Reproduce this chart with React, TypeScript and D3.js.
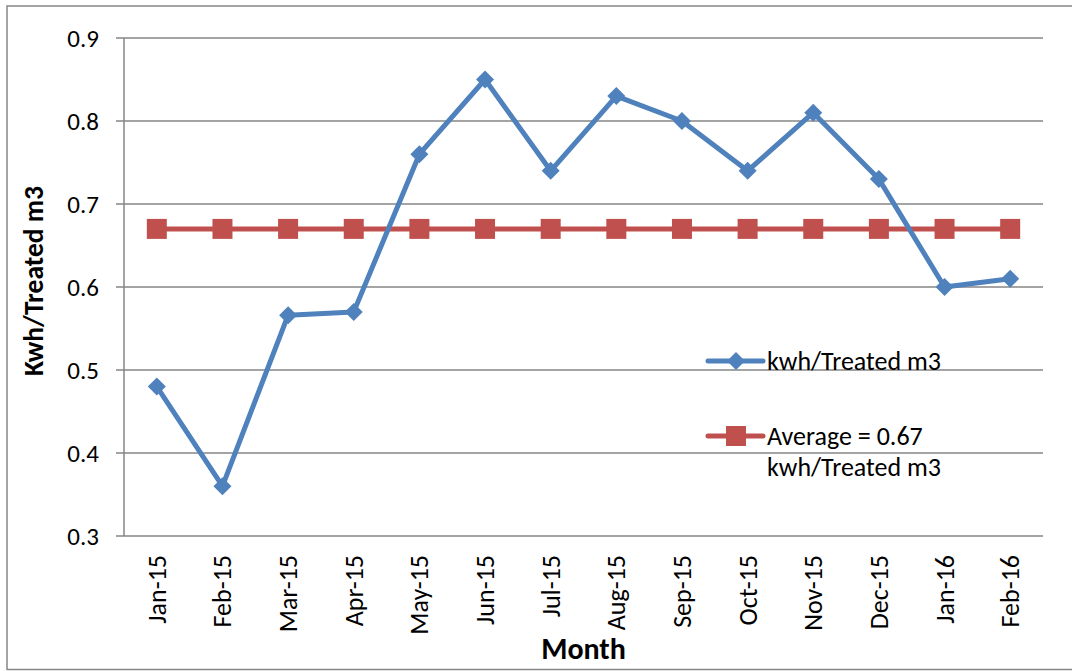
import React from "react";
import * as d3 from "d3";

const months = ["Jan-15","Feb-15","Mar-15","Apr-15","May-15","Jun-15","Jul-15","Aug-15","Sep-15","Oct-15","Nov-15","Dec-15","Jan-16","Feb-16"];
const kwhValues = [0.48,0.36,0.566,0.57,0.76,0.85,0.74,0.83,0.80,0.74,0.81,0.73,0.60,0.61];
const averageValue = 0.67;
const yTicks = [0.3,0.4,0.5,0.6,0.7,0.8,0.9];
const seriesNames = ["kwh/Treated m3", "Average = 0.67", "kwh/Treated m3"];

const W = 1072, H = 671;
const left = 124, right = 1043, top = 38, bottom = 536;
const FONT = "Carlito, Calibri, Lato, 'Open Sans', sans-serif";
const BLUE = "#4F81BD";
const RED = "#C0504D";
const GRID = "#868686";

export default function App() {
  const x = d3.scaleBand<string>().domain(months).range([left, right]);
  const y = d3.scaleLinear().domain([0.3, 0.9]).range([bottom, top]);
  const cx = (m: string) => (x(m) as number) + x.bandwidth() / 2;
  const line = d3.line<number>().x((_, i) => cx(months[i])).y(d => y(d));
  const avg = months.map(() => averageValue);
  const diamond = (px: number, py: number, r: number) =>
    `M${px},${py - r}L${px + r},${py}L${px},${py + r}L${px - r},${py}Z`;

  return (
    <svg width={W} height={H} style={{ position: "absolute", left: 0, top: 0, background: "#fff" }} fontFamily={FONT}>
      <rect x={7} y={6} width={W + 10} height={663.5} fill="#fff" stroke={GRID} strokeWidth={1.5} />
      {yTicks.map(t => (
        <g key={t}>
          <line x1={116} x2={right} y1={y(t)} y2={y(t)} stroke={GRID} strokeWidth={1.5} />
          <text x={99} y={y(t)} textAnchor="end" dominantBaseline="central" fontSize={25} fill="#000">{t.toFixed(1)}</text>
        </g>
      ))}
      <line x1={left} x2={left} y1={top} y2={bottom} stroke={GRID} strokeWidth={1.5} />
      {months.map(m => (
        <text key={m} transform={`translate(${cx(m)},${555}) rotate(-90)`} textAnchor="end" dominantBaseline="central" fontSize={26} fill="#000">{m}</text>
      ))}
      <path d={line(avg) || ""} fill="none" stroke={RED} strokeWidth={5} />
      {avg.map((v, i) => (
        <rect key={i} x={cx(months[i]) - 10} y={y(v) - 10} width={20} height={20} fill={RED} />
      ))}
      <path d={line(kwhValues) || ""} fill="none" stroke={BLUE} strokeWidth={5} strokeLinejoin="round" />
      {kwhValues.map((v, i) => (
        <path key={i} d={diamond(cx(months[i]), y(v), 9)} fill={BLUE} />
      ))}
      <text transform={`translate(33,281) rotate(-90)`} textAnchor="middle" dominantBaseline="central" fontSize={27.5} fontWeight="bold" fill="#000">Kwh/Treated m3</text>
      <text x={(left + right) / 2} y={648} textAnchor="middle" dominantBaseline="central" fontSize={30} fontWeight="bold" fill="#000">Month</text>
      <g>
        <line x1={708} x2={763} y1={361} y2={361} stroke={BLUE} strokeWidth={5} strokeLinecap="round" />
        <path d={diamond(736, 361, 9)} fill={BLUE} />
        <text x={767} y={361} dominantBaseline="central" fontSize={26} fill="#000">{seriesNames[0]}</text>
        <line x1={708} x2={763} y1={436} y2={436} stroke={RED} strokeWidth={5} strokeLinecap="round" />
        <rect x={726} y={426} width={20} height={20} fill={RED} />
        <text x={767} y={436} dominantBaseline="central" fontSize={26} fill="#000">{seriesNames[1]}</text>
        <text x={767} y={467} dominantBaseline="central" fontSize={26} fill="#000">{seriesNames[2]}</text>
      </g>
    </svg>
  );
}
